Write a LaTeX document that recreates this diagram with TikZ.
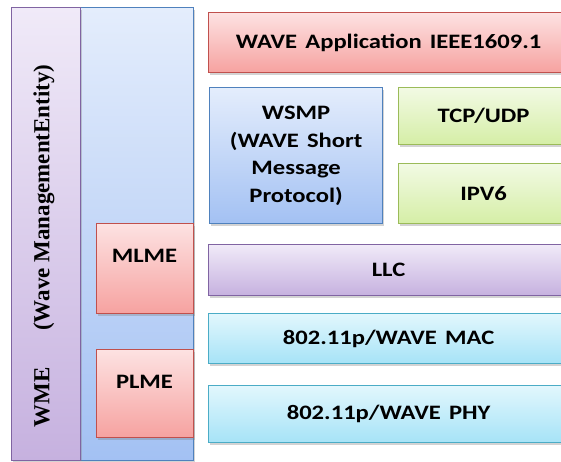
\documentclass[tikz,border=0pt]{standalone}
\usepackage{fontspec}
\setmainfont{Carlito}
\newfontfamily\wmefont{Liberation Serif}
\usetikzlibrary{shadows}
\newcommand{\wt}[1]{\scalebox{1.2}[1]{#1}}
\definecolor{redB}{HTML}{C0504D}
\definecolor{redT}{HTML}{FDE2E2}
\definecolor{redD}{HTML}{F6A2A0}
\definecolor{bluB}{HTML}{4F81BD}
\definecolor{bluT}{HTML}{E4EDFC}
\definecolor{bluD}{HTML}{A3C1F3}
\definecolor{grnB}{HTML}{9BBB59}
\definecolor{grnT}{HTML}{F2FAE4}
\definecolor{grnD}{HTML}{D5EEA6}
\definecolor{purB}{HTML}{8064A2}
\definecolor{purT}{HTML}{F0EAF8}
\definecolor{purD}{HTML}{C6B1DF}
\definecolor{cyaB}{HTML}{4BACC6}
\definecolor{cyaT}{HTML}{E2F7FD}
\definecolor{cyaD}{HTML}{A6E3F7}
\tikzset{
  layer/.style={draw, line width=1.2pt, anchor=north west, inner sep=0pt,
    font=\bfseries\fontsize{20.5}{27.5}\selectfont, align=center,
    drop shadow={shadow xshift=1.5pt, shadow yshift=-2.5pt, opacity=0.35}},
  redbox/.style={layer, draw=redB, top color=redT, bottom color=redD},
  blubox/.style={layer, draw=bluB, top color=bluT, bottom color=bluD},
  grnbox/.style={layer, draw=grnB, top color=grnT, bottom color=grnD},
  purbox/.style={layer, draw=purB, top color=purT, bottom color=purD},
  cyabox/.style={layer, draw=cyaB, top color=cyaT, bottom color=cyaD},
  sidelabel/.style={font=\bfseries\fontsize{20.5}{24}\selectfont, anchor=center},
}
\begin{document}
\begin{tikzpicture}[x=1pt,y=-1pt]
\useasboundingbox (0,0) rectangle (561,462);
\clip (0,0) rectangle (561,462);
% left columns
\node[blubox, drop shadow={opacity=0}, minimum width=113pt, minimum height=453pt] (mgmt) at (80,7) {};
\node[purbox, drop shadow={opacity=0}, minimum width=69pt, minimum height=453pt] (wme) at (11,7) {};
\node[rotate=90, font=\wmefont\bfseries\fontsize{23}{26}\selectfont, anchor=center] (wmetext) at (44,246) {WME\hspace{1.6em}(Wave ManagementEntity)};
\node[redbox, minimum width=97pt, minimum height=90pt] (mlme) at (96,223) {};
\node[sidelabel] (mlmetext) at (144.5,256) {\wt{MLME}};
\node[redbox, minimum width=97pt, minimum height=88pt] (plme) at (96,349) {};
\node[sidelabel] (plmetext) at (144.5,382) {\wt{PLME}};
% right stack
\node[redbox, minimum width=360pt, minimum height=60pt, text width=330pt] (app) at (208,12) {\wt{WAVE Application IEEE1609.1}};
\node[blubox, minimum width=173pt, minimum height=136pt, text width=170pt] (wsmp) at (209,87) {\wt{WSMP}\\\wt{(WAVE Short}\\\wt{Message}\\\wt{Protocol)}};
\node[grnbox, minimum width=170pt, minimum height=57pt, text width=150pt] (tcp) at (398,87) {\wt{TCP/UDP}};
\node[grnbox, minimum width=170pt, minimum height=60pt, text width=150pt] (ipv6) at (398,163) {\wt{IPV6}};
\node[purbox, minimum width=360pt, minimum height=51pt, text width=330pt] (llc) at (208,244) {\wt{LLC}};
\node[cyabox, minimum width=360pt, minimum height=50pt, text width=330pt] (mac) at (208,313) {\wt{802.11p/WAVE MAC}};
\node[cyabox, minimum width=360pt, minimum height=57pt, text width=330pt] (phy) at (208,385) {\wt{802.11p/WAVE PHY}};
\end{tikzpicture}
\end{document}
